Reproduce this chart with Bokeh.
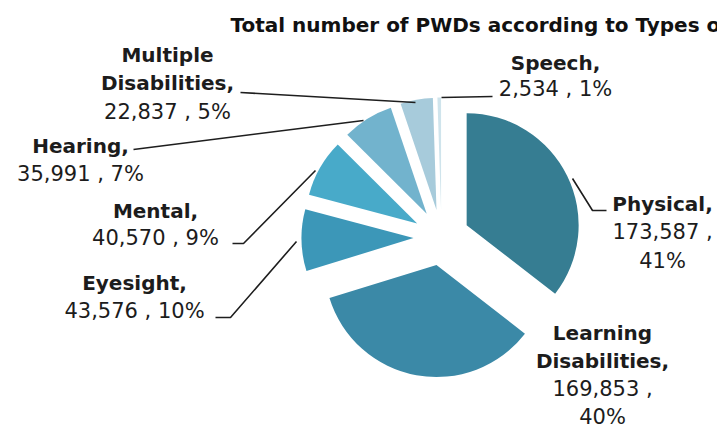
import numpy as np
from bokeh.plotting import figure
from bokeh.models import Range1d, ColumnDataSource
from bokeh.core.properties import value
from bokeh.embed import file_html
from bokeh.resources import INLINE

# ---- data ----
categories = ["Physical", "Learning Disabilities", "Eyesight", "Mental",
              "Hearing", "Multiple Disabilities", "Speech"]
counts = [173587, 169853, 43576, 40570, 35991, 22837, 2534]
pct_labels = ["41%", "40%", "10%", "9%", "7%", "5%", "1%"]
colors = ["#367d92", "#3b89a7", "#3c97b8", "#48aac9", "#72b3cd", "#a7cbdb", "#cfe4ec"]
title_text = "Total number of PWDs according to Types of Disability"

# ---- layout (picture pixel coords, converted below) ----
W, H = 717, 428
def X(px): return px
def Y(py): return H - py

center_img = (441, 237)
radius = 112
explode = 28
font = "DejaVu Sans"
txt_color = "#1c1c1c"

# label blocks: center x, first line y, line spacing, name lines, split value/pct
label_layout = {
    "Physical": (662, 203, 28.5, ["Physical,"], True),
    "Learning Disabilities": (602, 332, 28.3, ["Learning", "Disabilities,"], True),
    "Eyesight": (134, 282, 28, ["Eyesight,"], False),
    "Mental": (155, 210, 27.5, ["Mental,"], False),
    "Hearing": (80, 145, 28, ["Hearing,"], False),
    "Multiple Disabilities": (167, 54, 28.5, ["Multiple", "Disabilities,"], False),
    "Speech": (555, 62, 26, ["Speech,"], False),
}
leaders = {
    "Speech": [(441, 97), (492, 96)],
    "Multiple Disabilities": [(240, 92), (415, 102)],
    "Hearing": [(133, 149), (363, 120)],
    "Mental": [(232, 243), (243, 243), (315, 170)],
    "Eyesight": [(215, 317), (230, 317), (296, 241)],
    "Physical": [(572, 178), (592, 210), (606, 210)],
}

p = figure(width=W, height=H, x_range=Range1d(0, W), y_range=Range1d(0, H),
           x_axis_type=None, y_axis_type=None, toolbar_location=None,
           output_backend="svg", min_border=0, outline_line_color=None)
p.grid.visible = False

vals = np.array(counts, dtype=float)
frac = vals / vals.sum()
cum = np.concatenate([[0], np.cumsum(frac)])
start = np.pi / 2 - 2 * np.pi * cum[:-1]
end = np.pi / 2 - 2 * np.pi * cum[1:]
mid = (start + end) / 2
cx, cy = X(center_img[0]), Y(center_img[1])
src = ColumnDataSource(dict(
    x=cx + explode * np.cos(mid), y=cy + explode * np.sin(mid),
    start=start, end=end, color=colors, cat=categories))
p.wedge(x="x", y="y", radius=radius, start_angle="start", end_angle="end",
        direction="clock", fill_color="color", line_color=None, source=src)

# leader lines
for cat, pts in leaders.items():
    p.line([X(a) for a, b in pts], [Y(b) for a, b in pts], line_color="#1e1e1e", line_width=1.6)

# labels
for cat, cnt, pct in zip(categories, counts, pct_labels):
    lx, ly, sp, names, split = label_layout[cat]
    lines = [(n, True) for n in names]
    if split:
        lines += [(f"{cnt:,} ,", False), (pct, False)]
    else:
        lines += [(f"{cnt:,} , {pct}", False)]
    for i, (t, bold) in enumerate(lines):
        p.text(x=[X(lx)], y=[Y(ly + i * sp)], text=[t], text_align="center",
               text_baseline="middle", text_font=value(font),
               text_font_size="20px" if bold else "21px",
               text_font_style="bold" if bold else "normal",
               text_color=txt_color)

# title
p.text(x=[X(230)], y=[Y(24)], text=[title_text], text_align="left", text_baseline="middle",
       text_font=value(font), text_font_size="20px", text_font_style="bold", text_color="#111111")

open("out.html", "w").write(file_html(p, INLINE))
